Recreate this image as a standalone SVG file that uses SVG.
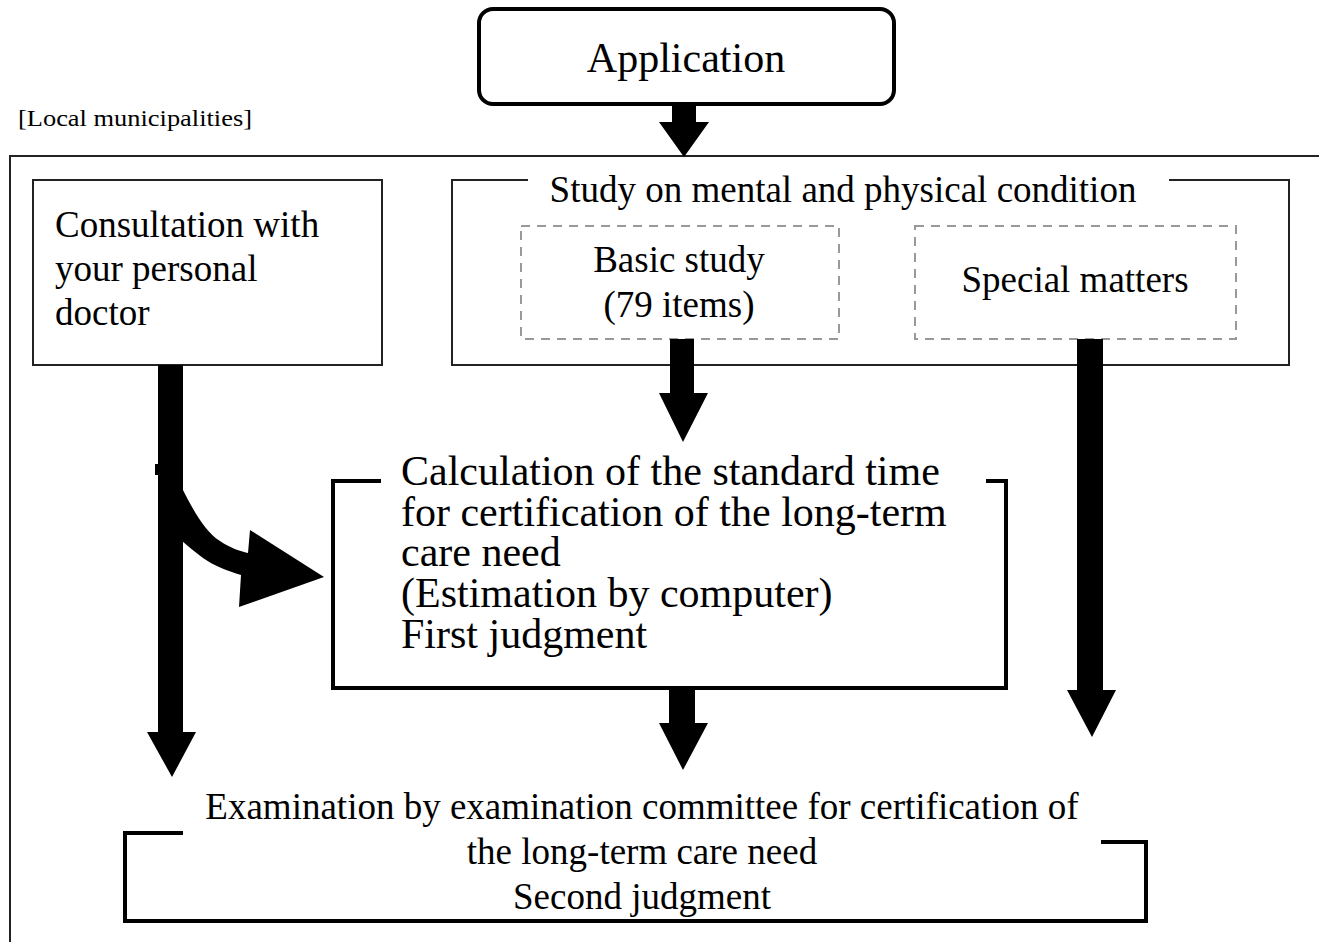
<svg xmlns="http://www.w3.org/2000/svg" width="1319" height="942" viewBox="0 0 1319 942">
  <style>
    text { font-family: "Liberation Serif", "Times New Roman", serif; fill: #000; }
    .frame { fill: none; stroke: #222; stroke-width: 2; }
    .thin { fill: none; stroke: #222; stroke-width: 2; }
    .heavy { fill: none; stroke: #000; stroke-width: 4; stroke-linejoin: miter; }
    .dash { fill: none; stroke: #999; stroke-width: 2; stroke-dasharray: 9 7; }
    .arrow { fill: #000; stroke: none; }
    .f37 { font-size: 37px; }
    .f42 { font-size: 42px; }
  </style>
  <rect width="1319" height="942" fill="#fff"/>

  <!-- municipality frame -->
  <g id="municipalities">
    <path class="frame" d="M10,942 V156 H1319"/>
    <text x="18" y="126" font-size="23" textLength="234" lengthAdjust="spacingAndGlyphs">[Local municipalities]</text>
  </g>

  <g id="application">
    <rect x="479" y="9" width="415" height="95" rx="14" ry="14" class="heavy"/>
    <text x="686" y="72" class="f42" text-anchor="middle">Application</text>
  </g>

  <g id="consultation">
    <rect x="33" y="180" width="349" height="185" class="thin"/>
    <text x="55" y="237" class="f37">Consultation with</text>
    <text x="55" y="281" class="f37">your personal</text>
    <text x="55" y="325" class="f37">doctor</text>
  </g>

  <g id="study">
    <path class="thin" d="M528,180 H452 V365 H1289 V180 H1169"/>
    <text x="843" y="202" class="f37" text-anchor="middle">Study on mental and physical condition</text>
  </g>

  <g id="basic-study">
    <rect x="521" y="226" width="318" height="113" class="dash"/>
    <text x="679" y="272" class="f37" text-anchor="middle">Basic study</text>
    <text x="679" y="317" class="f37" text-anchor="middle">(79 items)</text>
  </g>

  <g id="special-matters">
    <rect x="915" y="226" width="321" height="113" class="dash"/>
    <text x="1075" y="292" class="f37" text-anchor="middle">Special matters</text>
  </g>

  <g id="calculation">
    <path class="heavy" d="M381,481 H333 V688 H1006 V481 H986"/>
    <text x="401" y="485" class="f42">Calculation of the standard time</text>
    <text x="401" y="526" class="f42">for certification of the long-term</text>
    <text x="401" y="566" class="f42">care need</text>
    <text x="401" y="607" class="f42">(Estimation by computer)</text>
    <text x="401" y="648" class="f42">First judgment</text>
  </g>

  <g id="examination">
    <path class="heavy" d="M183,833 H125 V921 H1146 V842 H1101"/>
    <text x="642" y="819" class="f37" text-anchor="middle">Examination by examination committee for certification of</text>
    <text x="642" y="864" class="f37" text-anchor="middle">the long-term care need</text>
    <text x="642" y="909" class="f37" text-anchor="middle">Second judgment</text>
  </g>

  <!-- block arrows -->
  <g id="connectors">
    <polygon class="arrow" points="672,104 696,104 696,122 709,122 684,157 659,122 672,122"/>
    <polygon class="arrow" points="670,339 694,339 694,393 708,393 683,442 659,393 670,393"/>
    <polygon class="arrow" points="1077,339 1103,339 1103,690 1116,690 1092,737 1067,690 1077,690"/>
    <polygon class="arrow" points="669,688 695,688 695,723 708,723 683,770 659,723 669,723"/>
    <polygon class="arrow" points="158,365 183,365 183,732 196,732 172,777 147,732 158,732"/>
    <rect class="arrow" x="155" y="464" width="4" height="11"/>
    <path class="arrow" d="M182,488 C192,508 205,532 220,541 C230,548 240,551 248,553 L250,530 L324,577 L239,607 L241,575 C228,571 214,566 203,558 C195,552 188,546 182,541 Z"/>
  </g>
</svg>
